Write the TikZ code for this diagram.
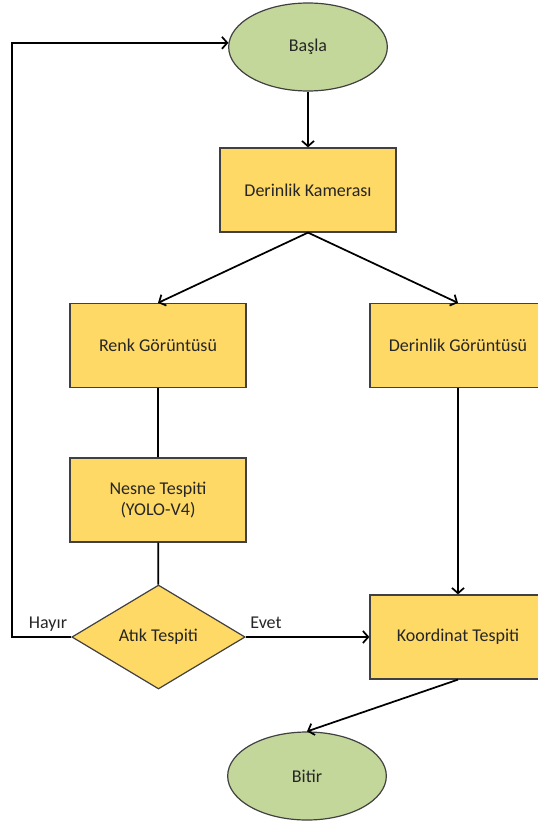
\documentclass[tikz,border=0pt]{standalone}
\usepackage{fontspec}
\setmainfont{Carlito}
\usetikzlibrary{shapes.geometric,arrows.meta}
\definecolor{boxfill}{HTML}{FFD966}
\definecolor{termfill}{HTML}{C4D79B}
\definecolor{edge}{HTML}{404040}
\definecolor{ink}{HTML}{262626}
\begin{document}
\begin{tikzpicture}[x=0.75pt,y=-0.75pt,
  label font/.style={font=\fontsize{13.5}{15.75}\selectfont, text=ink},
  process/.style={rectangle, draw=edge, fill=boxfill, line width=0.9pt,
    minimum width=132pt, minimum height=63pt, inner sep=0pt, align=center, label font},
  terminal/.style={ellipse, draw=edge, fill=termfill, line width=0.9pt,
    minimum width=119pt, minimum height=66pt, inner sep=0pt, label font},
  decision/.style={diamond, draw=edge, fill=boxfill, line width=0.9pt,
    minimum width=130pt, minimum height=78pt, inner sep=0pt, label font},
  flow/.style={draw=black, line width=1.3pt, -{Straight Barb[length=4pt,width=9pt]}},
  link/.style={draw=black, line width=1.3pt},
  tag/.style={inner sep=0pt, label font}]

% page frame
\fill[white] (0,0) rectangle (537,823);
\useasboundingbox (0,0) rectangle (537,823);

% shapes
\node[terminal] (basla) at (308,47) {Başla};
\node[process] (kamera) at (308,190) {Derinlik Kamerası};
\node[process] (renk) at (158,345.5) {Renk Görüntüsü};
\node[process] (derinlik) at (458,345.5) {Derinlik Görüntüsü};
\node[process] (nesne) at (158,500) {Nesne Tespiti\\(YOLO-V4)};
\node[decision] (atik) at (158.5,637) {Atık Tespiti};
\node[process] (koord) at (458,637) {Koordinat Tespiti};
\node[terminal] (bitir) at (307,776) {Bitir};

% branch labels
\node[tag, anchor=base] (hayir) at (48,628) {Hayır};
\node[tag, anchor=base] (evet) at (266,628) {Evet};

% connectors
\draw[flow] (basla) -- (kamera);
\draw[flow] (kamera.south) -- (renk.north);
\draw[flow] (kamera.south) -- (derinlik.north);
\draw[link] (renk) -- (nesne);
\draw[link] (nesne) -- (atik);
\draw[flow] (derinlik) -- (koord);
\draw[flow] (atik) -- (koord);
\draw[flow] (koord.south) -- (bitir.north);
\draw[flow] (atik.west) -- ++(-59.5,0) |- (basla.177);
\end{tikzpicture}
\end{document}
